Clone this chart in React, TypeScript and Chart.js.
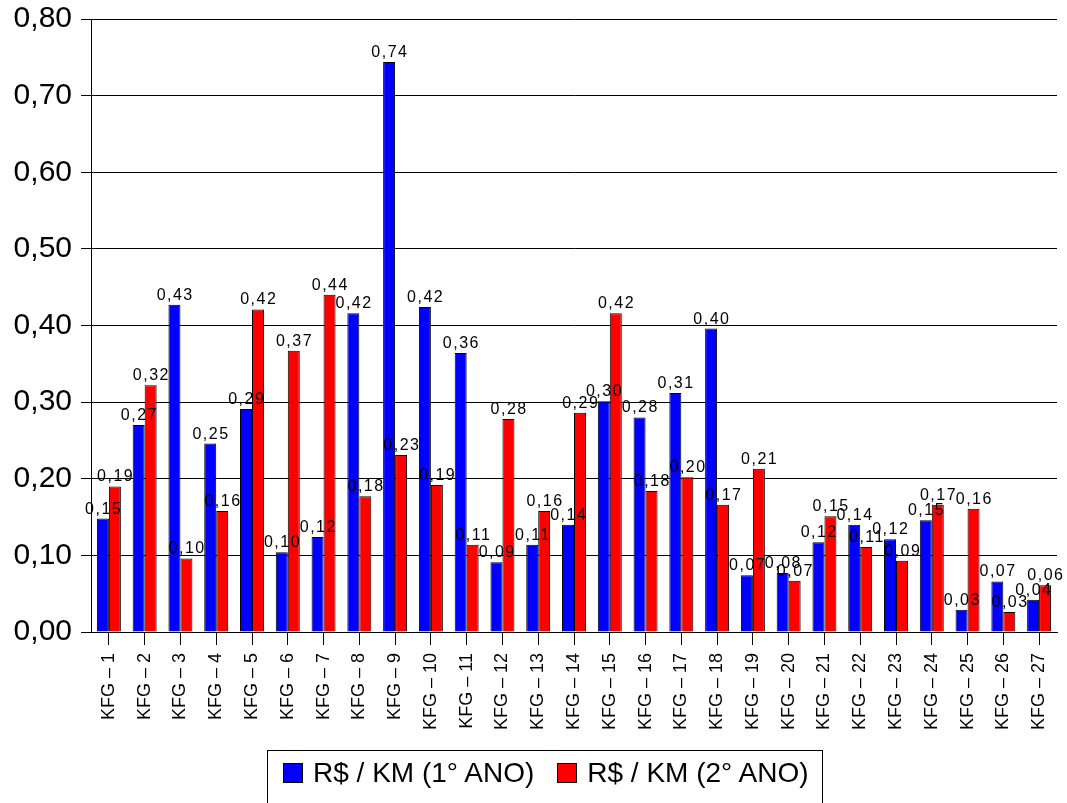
import React, { useEffect, useRef } from "react";
import { Chart, registerables } from "chart.js";

Chart.register(...registerables);

const categories = [
  "KFG – 1", "KFG – 2", "KFG – 3", "KFG – 4", "KFG – 5", "KFG – 6", "KFG – 7",
  "KFG – 8", "KFG – 9", "KFG – 10", "KFG – 11", "KFG – 12", "KFG – 13", "KFG – 14",
  "KFG – 15", "KFG – 16", "KFG – 17", "KFG – 18", "KFG – 19", "KFG – 20", "KFG – 21",
  "KFG – 22", "KFG – 23", "KFG – 24", "KFG – 25", "KFG – 26", "KFG – 27",
];

const year1Label = "R$ / KM (1° ANO)";
const year2Label = "R$ / KM (2° ANO)";

const year1 = [
  0.148, 0.27, 0.427, 0.246, 0.291, 0.104, 0.124, 0.416, 0.744, 0.424, 0.364,
  0.091, 0.114, 0.14, 0.301, 0.28, 0.312, 0.396, 0.074, 0.077, 0.117, 0.14,
  0.121, 0.146, 0.029, 0.066, 0.042,
];

const year2 = [
  0.19, 0.322, 0.096, 0.158, 0.421, 0.367, 0.44, 0.177, 0.231, 0.192, 0.114,
  0.278, 0.158, 0.286, 0.416, 0.184, 0.202, 0.166, 0.213, 0.067, 0.151, 0.111,
  0.093, 0.166, 0.161, 0.026, 0.061,
];

const yMin = 0;
const yMax = 0.8;
const yStep = 0.1;

const FONT = "'Liberation Sans', Arial, sans-serif";
const fmt = (v: number) => v.toFixed(2).replace(".", ",");

const valueLabels = {
  id: "valueLabels",
  afterDatasetsDraw(chart: any) {
    const ctx = chart.ctx;
    ctx.save();
    ctx.font = `16px ${FONT}`;
    try {
      (ctx as any).letterSpacing = "1.5px";
    } catch (e) {}
    ctx.fillStyle = "#000";
    ctx.textAlign = "center";
    ctx.textBaseline = "alphabetic";
    chart.data.datasets.forEach((ds: any, di: number) => {
      const meta = chart.getDatasetMeta(di);
      meta.data.forEach((el: any, i: number) => {
        const v = ds.data[i] as number;
        ctx.fillText(fmt(v), el.x + 0.75, el.y - 5);
      });
    });
    ctx.restore();
  },
};

export default function App() {
  const ref = useRef<HTMLCanvasElement | null>(null);

  useEffect(() => {
    if (!ref.current) return;
    const chart = new Chart(ref.current, {
      type: "bar",
      data: {
        labels: categories,
        datasets: [
          {
            label: year1Label,
            data: year1,
            backgroundColor: "#0000FF",
            borderColor: "#000",
            borderWidth: 1,
            barPercentage: 1,
            categoryPercentage: 0.67,
          },
          {
            label: year2Label,
            data: year2,
            backgroundColor: "#FF0000",
            borderColor: "#000",
            borderWidth: 1,
            barPercentage: 1,
            categoryPercentage: 0.67,
          },
        ],
      },
      options: {
        responsive: false,
        animation: false,
        devicePixelRatio: 1,
        layout: { padding: { top: 19, right: 10, left: 0, bottom: 61 } },
        plugins: {
          legend: { display: false },
          tooltip: { enabled: false },
          title: { display: false },
        },
        scales: {
          x: {
            offset: true,
            grid: {
              display: true,
              offset: false,
              drawOnChartArea: false,
              drawTicks: true,
              tickLength: 13,
              color: "#000",
            },
            border: { display: true, color: "#000", width: 1 },
            ticks: {
              autoSkip: false,
              minRotation: 90,
              maxRotation: 90,
              padding: 8,
              color: "#000",
              font: { family: FONT, size: 18 },
            },
            afterFit: (scale: any) => {
              scale.height = 110;
              scale.paddingLeft = 0;
              scale.paddingRight = 0;
            },
          },
          y: {
            min: yMin,
            max: yMax,
            grid: {
              display: true,
              drawTicks: true,
              tickLength: 10,
              color: "#000",
              lineWidth: 1,
            },
            border: { display: true, color: "#000", width: 1 },
            ticks: {
              stepSize: yStep,
              padding: 9,
              color: "#000",
              font: { family: FONT, size: 30 },
              callback: (v: any) => fmt(Number(v)),
            },
            afterFit: (scale: any) => {
              scale.width = 91;
              scale.paddingTop = 0;
              scale.paddingBottom = 0;
            },
          },
        },
      },
      plugins: [valueLabels],
    });
    return () => chart.destroy();
  }, []);

  const swatch = (color: string): React.CSSProperties => ({
    display: "inline-block",
    width: 20,
    height: 20,
    background: color,
    border: "1px solid #000",
    boxSizing: "border-box",
    marginRight: 10,
  });

  return (
    <div
      style={{
        position: "fixed",
        left: 0,
        top: 0,
        width: 1067,
        height: 803,
        overflow: "hidden",
        background: "#fff",
      }}
    >
      <canvas ref={ref} width={1067} height={803} style={{ display: "block", width: 1067, height: 803 }} />
      <div
        style={{
          position: "absolute",
          left: 267,
          top: 750,
          width: 556,
          height: 60,
          border: "1px solid #000",
          boxSizing: "border-box",
          display: "flex",
          alignItems: "flex-start",
          paddingLeft: 15,
          paddingTop: 11,
          fontFamily: FONT,
          fontSize: 28,
          color: "#000",
          whiteSpace: "nowrap",
        }}
      >
        <span style={{ display: "flex", alignItems: "center", height: 22 }}>
          <span style={swatch("#0000FF")} />
          <span style={{ lineHeight: "22px" }}>{year1Label}</span>
        </span>
        <span style={{ display: "flex", alignItems: "center", height: 22, marginLeft: 23 }}>
          <span style={swatch("#FF0000")} />
          <span style={{ lineHeight: "22px" }}>{year2Label}</span>
        </span>
      </div>
    </div>
  );
}
